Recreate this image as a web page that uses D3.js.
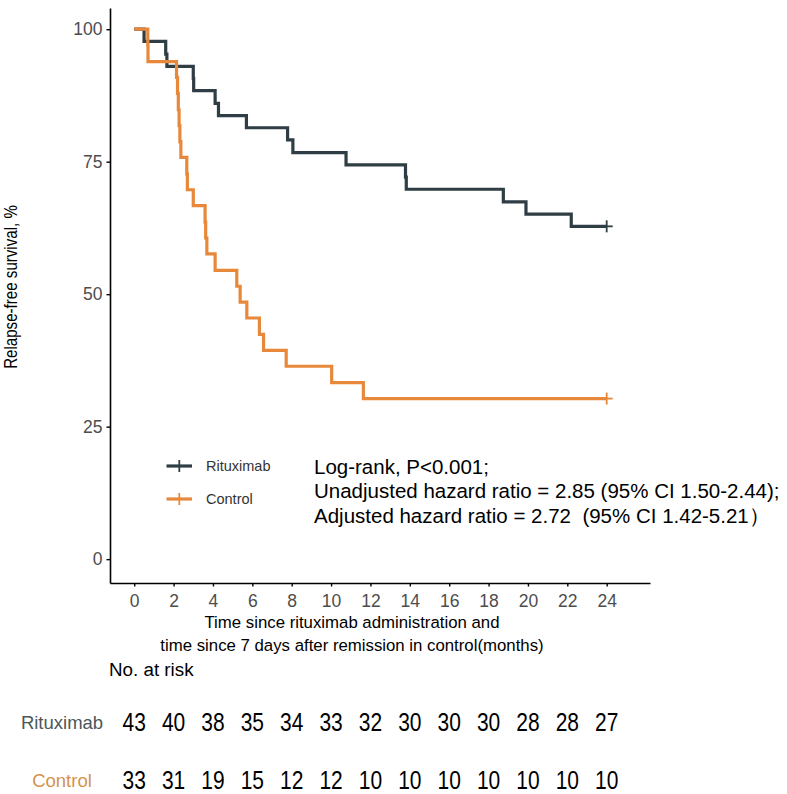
<!DOCTYPE html>
<html>
<head>
<meta charset="utf-8">
<script src="https://cdn.jsdelivr.net/npm/d3@7"></script>
<style>
  html, body { margin: 0; padding: 0; background: #fff; }
  svg { display: block; }
  text { font-family: "Liberation Sans", Arial, Helvetica, sans-serif; }
</style>
</head>
<body>
<svg id="chart" width="787" height="794"></svg>
<script>
// ---- data ----
const timeTicks = [0, 2, 4, 6, 8, 10, 12, 14, 16, 18, 20, 22, 24];
const survTicks = [0, 25, 50, 75, 100];

const rituximabTime = [0, 0.5, 1.6, 1.66, 3.0, 3.02, 4.11, 4.28, 5.7, 7.79, 8.06, 10.76, 13.78, 13.82, 18.75, 19.9, 22.2, 24];
const rituximabSurv = [100, 97.7, 95.3, 93.0, 90.7, 88.4, 86.0, 83.7, 81.4, 79.1, 76.7, 74.4, 72.1, 69.8, 67.4, 65.1, 62.8, 62.8];

const controlTime = [0, 0.69, 0.7, 2.15, 2.2, 2.24, 2.28, 2.32, 2.37, 2.67, 2.7, 3.0, 3.6, 3.63, 3.69, 4.11, 5.21, 5.38, 5.72, 6.36, 6.57, 7.72, 10.03, 11.64, 24];
const controlSurv = [100, 97.0, 93.9, 90.9, 87.9, 84.8, 81.8, 78.8, 75.8, 72.7, 69.7, 66.7, 63.6, 60.6, 57.6, 54.5, 51.5, 48.5, 45.5, 42.4, 39.4, 36.4, 33.3, 30.3, 30.3];

const groups = ["Rituximab", "Control"];
const groupColors = ["#2f3e44", "#e8883a"];
const tableColors = ["#4b575c", "#d4924e"];

const rituximabRisk = [43, 40, 38, 35, 34, 33, 32, 30, 30, 30, 28, 28, 27];
const controlRisk = [33, 31, 19, 15, 12, 12, 10, 10, 10, 10, 10, 10, 10];

const annotationLines = [
  "Log-rank, P<0.001;",
  "Unadjusted hazard ratio = 2.85 (95% CI 1.50-2.44);",
  "Adjusted hazard ratio = 2.72\u00a0 (95% CI 1.42-5.21\uff09"
];
const xTitleLines = ["Time since rituximab administration and", "time since 7 days after remission in control(months)"];
const yTitle = "Relapse-free survival, %";

// ---- drawing ----
const svg = d3.select("#chart");
svg.append("rect").attr("width", 787).attr("height", 794).attr("fill", "#fff");

const x = d3.scaleLinear().domain([-1.23, 26.2]).range([110, 650]);
const y = d3.scaleLinear().domain([-4.5, 104]).range([583, 8]);

// axes
const xAxis = d3.axisBottom(x).tickValues(timeTicks).tickSize(3.5).tickPadding(8).tickSizeOuter(0);
const yAxis = d3.axisLeft(y).tickValues(survTicks).tickSize(3.5).tickPadding(4).tickSizeOuter(0);

const gx = svg.append("g").attr("transform", "translate(0,583)").call(xAxis);
const gy = svg.append("g").attr("transform", "translate(110,0)").call(yAxis);
[gx, gy].forEach(g => {
  g.select(".domain").attr("stroke", "#000").attr("stroke-width", 1.6);
  g.selectAll(".tick line").attr("stroke", "#000").attr("stroke-width", 1.4);
  g.selectAll(".tick text").attr("fill", "#4d4d4d").attr("font-size", 17.5)
    .attr("font-family", "Liberation Sans, Arial, sans-serif");
});

// curves
const line = d3.line().x(d => x(d[0])).y(d => y(d[1])).curve(d3.curveStepAfter);
const series = [
  d3.zip(rituximabTime, rituximabSurv),
  d3.zip(controlTime, controlSurv)
];
series.forEach((pts, i) => {
  svg.append("path").datum(pts).attr("d", line)
    .attr("fill", "none").attr("stroke", groupColors[i]).attr("stroke-width", 3.2)
    .attr("stroke-linejoin", "miter").attr("stroke-linecap", "butt");
  const last = pts[pts.length - 1];
  const cx = x(last[0]), cy = y(last[1]);
  svg.append("line").attr("x1", cx).attr("x2", cx).attr("y1", cy - 6).attr("y2", cy + 6)
    .attr("stroke", groupColors[i]).attr("stroke-width", 1.8);
  svg.append("line").attr("x1", cx - 3).attr("x2", cx + 6).attr("y1", cy).attr("y2", cy)
    .attr("stroke", groupColors[i]).attr("stroke-width", 1.8);
});

// legend
const legendY = [466, 499];
groups.forEach((g, i) => {
  const ly = legendY[i];
  svg.append("line").attr("x1", 166.5).attr("x2", 192).attr("y1", ly).attr("y2", ly)
    .attr("stroke", groupColors[i]).attr("stroke-width", 3.2);
  svg.append("line").attr("x1", 179.3).attr("x2", 179.3).attr("y1", ly - 6).attr("y2", ly + 6)
    .attr("stroke", groupColors[i]).attr("stroke-width", 1.8);
  svg.append("text").attr("x", 206).attr("y", ly + 5.3).attr("font-size", 14.5)
    .attr("fill", "#333").text(g);
});

// annotation
annotationLines.forEach((t, i) => {
  svg.append("text").attr("x", 314).attr("y", 474 + i * 24.3).attr("font-size", 20.5)
    .attr("fill", "#000").text(t);
});

// axis titles
xTitleLines.forEach((t, i) => {
  svg.append("text").attr("x", 352).attr("y", 628 + i * 23).attr("text-anchor", "middle")
    .attr("font-size", 16.8).attr("fill", "#000").text(t);
});
svg.append("text").attr("transform", "translate(17,287) rotate(-90) scale(0.84,1)").attr("text-anchor", "middle")
  .attr("font-size", 18).attr("fill", "#000").text(yTitle);

// risk table
svg.append("text").attr("x", 109).attr("y", 676).attr("font-size", 18.8).attr("fill", "#000").text("No. at risk");
const riskRows = [rituximabRisk, controlRisk];
const rowY = [722, 780];
riskRows.forEach((row, i) => {
  svg.append("text").attr("x", 62).attr("y", rowY[i] + 6.6).attr("text-anchor", "middle")
    .attr("font-size", 18.5).attr("fill", tableColors[i]).text(groups[i]);
  svg.selectAll(null).data(row).enter().append("text")
    .attr("transform", (d, j) => `translate(${x(timeTicks[j])},${rowY[i] + 8.8}) scale(0.84,1)`)
    .attr("text-anchor", "middle").attr("font-size", 25).attr("fill", "#000")
    .text(d => d);
});
</script>
</body>
</html>
